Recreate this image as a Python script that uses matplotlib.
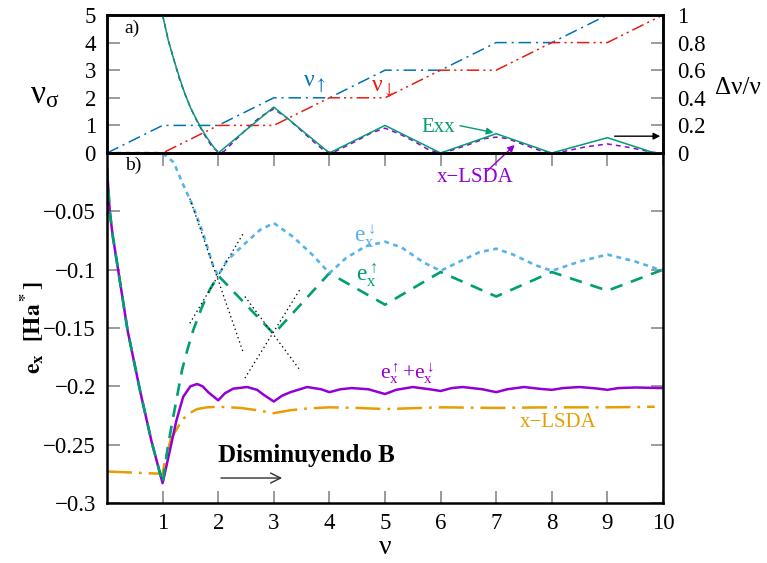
import matplotlib.pyplot as plt
import numpy as np

plt.rcParams['font.family'] = ['Liberation Serif', 'DejaVu Serif']
plt.rcParams['mathtext.fontset'] = 'stix'
plt.rcParams['lines.scale_dashes'] = False

# colores (paleta de gnuplot)
c_purple = '#9400d3'
c_green = '#009e73'
c_sky = '#56b4e9'
c_orange = '#e69f00'
c_blue = '#0072b2'
c_red = '#e51e10'
c_tick = '#808080'

# ---- panel a): factores de llenado por espin
nu_int = [0, 1, 2, 3, 4, 5, 6, 7, 8, 9, 10]
nu_up = [0, 1, 1, 2, 2, 3, 3, 4, 4, 5, 5]
nu_dn = [0, 0, 1, 1, 2, 2, 3, 3, 4, 4, 5]

# polarizacion dnu/nu (eje derecho)
pol_nu_exx = [1.0, 1.1, 1.2, 1.3, 1.4, 1.5, 1.6, 1.7, 1.8, 1.9, 2.0,
              3.0, 4.0, 5.0, 6.0, 7.0, 8.0, 9.0, 9.85, 10.0]
pol_exx = [1.0, 0.82, 0.68, 0.55, 0.43, 0.33, 0.25, 0.176, 0.11, 0.053, 0.0,
           0.333, 0.0, 0.2, 0.0, 0.14, 0.0, 0.111, 0.0, 0.0]

pol_nu_lsda = [1.0, 1.1, 1.2, 1.3, 1.4, 1.5, 1.6, 1.7, 1.8, 1.9, 2.0, 2.1,
               2.25, 2.5, 2.75, 3.0, 3.25, 3.5, 3.75, 3.9, 4.05, 4.2, 4.5,
               4.75, 5.0, 5.25, 5.5, 5.8, 6.0, 6.2, 6.5, 6.8, 7.0, 7.2, 7.5,
               7.8, 8.0, 8.2, 8.6, 9.0, 9.4, 9.8, 10.0]
pol_lsda = [1.0, 0.82, 0.68, 0.54, 0.43, 0.33, 0.245, 0.17, 0.1, 0.04, 0.01,
            0.01, 0.07, 0.17, 0.26, 0.32, 0.25, 0.16, 0.07, 0.02, 0.0, 0.03,
            0.09, 0.145, 0.18, 0.14, 0.09, 0.02, 0.0, 0.02, 0.06, 0.105,
            0.115, 0.105, 0.06, 0.016, 0.0, 0.01, 0.044, 0.066, 0.04, 0.006,
            0.0]

# ---- panel b): energia de intercambio
nu_dn_e = [0.0, 1.0, 1.2, 1.35, 1.55, 1.73, 1.91, 2.0, 2.16, 2.45, 2.75, 3.0,
           3.35, 3.7, 4.0, 4.3, 4.65, 5.0, 5.3, 5.7, 6.0, 6.3, 6.7, 7.0, 7.3,
           7.7, 8.0, 8.5, 9.0, 9.5, 10.0]
ex_dn = [0.0, 0.0, -0.008, -0.025, -0.046, -0.069, -0.097, -0.105, -0.092,
         -0.079, -0.066, -0.060, -0.072, -0.0875, -0.103, -0.09, -0.08,
         -0.076, -0.081, -0.094, -0.101, -0.094, -0.085, -0.082, -0.087,
         -0.096, -0.101, -0.093, -0.087, -0.093, -0.101]

nu_up_e = [0.0, 0.05, 0.1, 0.2, 0.37, 0.6, 0.8, 1.0, 1.1, 1.2, 1.35, 1.45,
           1.55, 1.7, 1.85, 2.0, 3.0, 4.0, 5.0, 6.0, 7.0, 8.0, 9.0, 10.0]
ex_up = [-0.013, -0.05, -0.07, -0.1, -0.152, -0.205, -0.247, -0.283, -0.25,
         -0.224, -0.186, -0.168, -0.152, -0.133, -0.117, -0.105, -0.155,
         -0.103, -0.13, -0.102, -0.123, -0.102, -0.118, -0.1]

nu_tot = [0.0, 0.05, 0.1, 0.2, 0.37, 0.6, 0.8, 1.0, 1.08, 1.25, 1.37, 1.5,
          1.62, 1.72, 1.82, 2.0, 2.12, 2.27, 2.52, 2.7, 2.81, 3.0, 3.15, 3.3,
          3.6, 3.85, 4.0, 4.2, 4.4, 4.7, 5.0, 5.2, 5.5, 5.8, 6.0, 6.2, 6.4,
          6.75, 7.0, 7.2, 7.5, 7.8, 8.0, 8.2, 8.5, 8.8, 9.0, 9.2, 9.5, 10.0]
ex_tot = [-0.013, -0.05, -0.07, -0.1, -0.152, -0.205, -0.247, -0.283, -0.266,
          -0.229, -0.209, -0.2, -0.198, -0.2, -0.205, -0.212, -0.206,
          -0.202, -0.2006, -0.203, -0.207, -0.213, -0.208, -0.205, -0.2006,
          -0.2025, -0.205, -0.2025, -0.2015, -0.2025, -0.2066, -0.203,
          -0.2006, -0.2025, -0.204, -0.2015, -0.2006, -0.2025, -0.205,
          -0.2025, -0.2006, -0.2022, -0.203, -0.2015, -0.2006, -0.2018,
          -0.203, -0.2015, -0.201, -0.2015]

nu_lsda = [0.0, 1.0, 1.05, 1.15, 1.25, 1.35, 1.45, 1.62, 1.8, 2.0, 2.4, 2.7,
           3.0, 3.3, 3.6, 4.0, 4.5, 5.0, 6.0, 7.0, 8.0, 9.0, 9.85]
ex_lsda = [-0.273, -0.275, -0.262, -0.245, -0.237, -0.229, -0.224, -0.2195,
           -0.218, -0.2175, -0.2185, -0.2205, -0.223, -0.2205, -0.219,
           -0.218, -0.2185, -0.2195, -0.218, -0.2185, -0.218, -0.218,
           -0.2175]

# tangentes en los cruces nu=2 y nu=3
tangents = [
    ([1.49, 2.45], [-0.039, -0.171]),
    ([1.49, 2.45], [-0.146, -0.069]),
    ([2.48, 3.47], [-0.123, -0.186]),
    ([2.48, 3.47], [-0.193, -0.117]),
]

fig = plt.figure(figsize=(7.67, 5.63), dpi=100)
ax_b = fig.add_axes([0.1395, 0.1066, 0.7249, 0.6216])
ax_a = fig.add_axes([0.1395, 0.7282, 0.7249, 0.2452])
ax_a.patch.set_visible(False)
ax_r = ax_a.twinx()

# ---------------- panel b)
ax_b.plot(nu_lsda, ex_lsda, color=c_orange, lw=1.8, dashes=(18, 5, 2, 5))
ax_b.plot(nu_tot, ex_tot, color=c_purple, lw=1.8)
ax_b.plot(nu_up_e, ex_up, color=c_green, lw=1.9, dashes=(9, 6.5))
ax_b.plot(nu_dn_e, ex_dn, color=c_sky, lw=1.9, dashes=(3.5, 3.2), clip_on=False)
for tx, ty in tangents:
    ax_b.plot(tx, ty, color='black', lw=0.9, dashes=(1, 2.2))

ax_b.set_xlim(0, 10)
ax_b.set_ylim(-0.3, 0)
ax_b.set_xticks(range(1, 11))
yt = [-0.3, -0.25, -0.2, -0.15, -0.1, -0.05]
ax_b.set_yticks(yt)
ax_b.set_yticklabels(['−0.3', '−0.25', '−0.2', '−0.15', '−0.1', '−0.05'])
ax_b.tick_params(direction='in', top=True, right=True, length=9, width=1.1,
                 color=c_tick, labelsize=16.5)
ax_b.tick_params(axis='x', pad=7)
ax_b.tick_params(axis='y', pad=8)

ax_b.text(0.032, 0.966, 'b)', transform=ax_b.transAxes, fontsize=14,
          ha='left', va='center')
ax_b.text(4.64, -0.071, r'$\mathregular{e_x^{\downarrow}}$', color=c_sky,
          fontsize=17, ha='center', va='center')
ax_b.text(4.66, -0.1046, r'$\mathregular{e_x^{\uparrow}}$', color=c_green,
          fontsize=17, ha='center', va='center')
ax_b.text(5.4, -0.1886, r'$\mathregular{e_x^{\uparrow}}$+$\mathregular{e_x^{\downarrow}}$',
          color=c_purple, fontsize=15.5, ha='center', va='center')
ax_b.text(8.11, -0.2306, 'x−LSDA', color=c_orange, fontsize=15,
          ha='center', va='center')
ax_b.text(2.0, -0.259, 'Disminuyendo B', fontsize=18, fontweight='bold',
          ha='left', va='center')
ax_b.annotate('', xy=(3.2, -0.2786), xytext=(2.0, -0.2786),
              arrowprops=dict(arrowstyle='->', color='#303030', lw=1,
                              mutation_scale=18))

# ---------------- panel a)
ax_a.plot(nu_int, nu_up, color=c_blue, lw=1.1, dashes=(9, 3.5, 1.5, 3.5))
ax_a.plot(nu_int, nu_dn, color=c_red, lw=1.1,
          dashes=(9, 3, 1.5, 3, 1.5, 3))
ax_r.plot(pol_nu_lsda, pol_lsda, color=c_purple, lw=1.1, dashes=(3.5, 3))
ax_r.plot(pol_nu_exx, pol_exx, color=c_green, lw=1.1)

ax_a.set_xlim(0, 10)
ax_a.set_ylim(0, 5)
ax_r.set_ylim(0, 1)
ax_a.set_xticks([])
ax_a.set_yticks(range(0, 6))
ax_r.set_yticks([0, 0.2, 0.4, 0.6, 0.8, 1.0])
ax_r.set_yticklabels(['0', '0.2', '0.4', '0.6', '0.8', '1'])
ax_a.tick_params(direction='in', length=9, width=1.1, color=c_tick,
                 labelsize=16.5, pad=8)
ax_r.tick_params(direction='in', length=9, width=1.1, color=c_tick,
                 labelsize=16.5, pad=10)

ax_a.text(0.032, 0.906, 'a)', transform=ax_a.transAxes, fontsize=14,
          ha='left', va='center')
ax_a.text(3.74, 2.5, r'$\mathregular{ν}_{\uparrow}$', color=c_blue,
          fontsize=17, ha='center', va='center')
ax_a.text(4.96, 2.3, r'$\mathregular{ν}_{\downarrow}$', color=c_red,
          fontsize=17, ha='center', va='center')

ax_a.text(5.95, 0.94, 'Exx', color=c_green, fontsize=15, ha='center',
          va='center')
ax_a.annotate('', xy=(7.0, 0.72), xytext=(6.3, 1.01),
              arrowprops=dict(arrowstyle='-|>', color=c_green, lw=1,
                              mutation_scale=10))
ax_a.text(6.62, -0.9, 'x−LSDA', color=c_purple, fontsize=15,
          ha='center', va='center')
ax_a.annotate('', xy=(7.37, 0.36), xytext=(6.8, -0.72),
              annotation_clip=False,
              arrowprops=dict(arrowstyle='-|>', color=c_purple, lw=1,
                              mutation_scale=10))
ax_a.annotate('', xy=(10.0, 0.61), xytext=(9.08, 0.61),
              annotation_clip=False,
              arrowprops=dict(arrowstyle='-|>', color='black', lw=1,
                              mutation_scale=10))

for ax in (ax_a, ax_b, ax_r):
    for sp in ax.spines.values():
        sp.set_linewidth(1.8)

# etiquetas de los ejes
fig.text(45 / 767, 1 - 95 / 563, r'$\mathregular{ν_{σ}}$',
         fontsize=24, ha='center', va='center')
fig.text(738 / 767, 1 - 88 / 563, 'Δν/ν', fontsize=18,
         ha='center', va='center')
fig.text(385 / 767, 1 - 548 / 563, 'ν', fontsize=20,
         ha='center', va='center')
fig.text(32 / 767, 1 - 327 / 563, r'$\mathbf{e_x}$  $\mathbf{[Ha^*]}$',
         fontsize=17, rotation=90, ha='center', va='center')

fig.savefig('out.png', dpi=100)
